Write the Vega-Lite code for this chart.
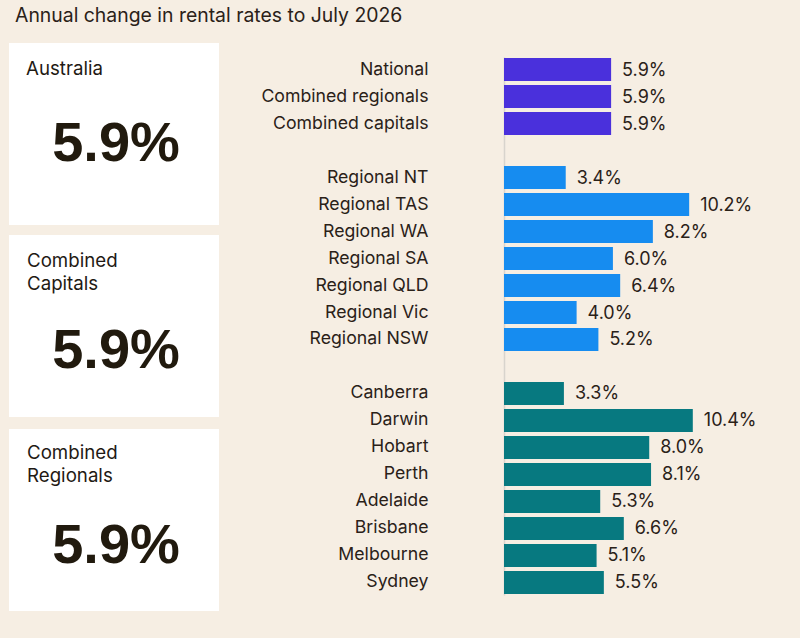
{
"$schema":"https://vega.github.io/schema/vega-lite/v6.json",
"background":"#f6eee3",
"padding":{"left":9,"top":5,"right":0,"bottom":28},
"config":{"view":{"stroke":null},"font":"Inter","concat":{"spacing":0}},
"datasets":{
"panels":[{"panel":"Australia","label":"Australia","value":"5.9%"},{"panel":"Capitals","label":"Combined\nCapitals","value":"5.9%"},{"panel":"Regionals","label":"Combined\nRegionals","value":"5.9%"}],
"bars":[
{"name":"National","group":"National","change":5.9,"label":"5.9%"},
{"name":"Combined regionals","group":"National","change":5.9,"label":"5.9%"},
{"name":"Combined capitals","group":"National","change":5.9,"label":"5.9%"},
{"name":"Regional NT","group":"Regional","change":3.4,"label":"3.4%"},
{"name":"Regional TAS","group":"Regional","change":10.2,"label":"10.2%"},
{"name":"Regional WA","group":"Regional","change":8.2,"label":"8.2%"},
{"name":"Regional SA","group":"Regional","change":6.0,"label":"6.0%"},
{"name":"Regional QLD","group":"Regional","change":6.4,"label":"6.4%"},
{"name":"Regional Vic","group":"Regional","change":4.0,"label":"4.0%"},
{"name":"Regional NSW","group":"Regional","change":5.2,"label":"5.2%"},
{"name":"Canberra","group":"Capital","change":3.3,"label":"3.3%"},
{"name":"Darwin","group":"Capital","change":10.4,"label":"10.4%"},
{"name":"Hobart","group":"Capital","change":8.0,"label":"8.0%"},
{"name":"Perth","group":"Capital","change":8.1,"label":"8.1%"},
{"name":"Adelaide","group":"Capital","change":5.3,"label":"5.3%"},
{"name":"Brisbane","group":"Capital","change":6.6,"label":"6.6%"},
{"name":"Melbourne","group":"Capital","change":5.1,"label":"5.1%"},
{"name":"Sydney","group":"Capital","change":5.5,"label":"5.5%"}
]},
"title":{"text":"Annual change in rental rates to July 2026","anchor":"start","font":"Inter","fontSize":19.4,"fontWeight":400,"color":"#2a2118","offset":17,"dx":6},
"spacing":41,
"hconcat":[
{"spacing":12,"vconcat":[
{"spacing":10,"vconcat":[
{"width":210,"height":182,"view":{"fill":"#ffffff"},"data":{"name":"panels"},"transform":[{"filter":"datum.panel==='Australia'"}],
"layer":[
{"mark":{"type":"text","align":"left","baseline":"top","lineBreak":"\n","fontSize":18.7,"lineHeight":23,"dx":-88,"dy":-74,"color":"#1f1a14"},"encoding":{"text":{"field":"label"}}},
{"mark":{"type":"text","font":"Liberation Sans","fontSize":56,"fontWeight":"bold","dx":2,"dy":10,"color":"#211a0e"},"encoding":{"text":{"field":"value"}}}]},
{"width":210,"height":182,"view":{"fill":"#ffffff"},"data":{"name":"panels"},"transform":[{"filter":"datum.panel==='Capitals'"}],
"layer":[
{"mark":{"type":"text","align":"left","baseline":"top","lineBreak":"\n","fontSize":18.7,"lineHeight":23,"dx":-87,"dy":-74,"color":"#1f1a14"},"encoding":{"text":{"field":"label"}}},
{"mark":{"type":"text","font":"Liberation Sans","fontSize":56,"fontWeight":"bold","dx":2,"dy":25,"color":"#211a0e"},"encoding":{"text":{"field":"value"}}}]}
]},
{"width":210,"height":182,"view":{"fill":"#ffffff"},"data":{"name":"panels"},"transform":[{"filter":"datum.panel==='Regionals'"}],
"layer":[
{"mark":{"type":"text","align":"left","baseline":"top","lineBreak":"\n","fontSize":18.7,"lineHeight":23,"dx":-87,"dy":-76,"color":"#1f1a14"},"encoding":{"text":{"field":"label"}}},
{"mark":{"type":"text","font":"Liberation Sans","fontSize":56,"fontWeight":"bold","dx":2,"dy":26,"color":"#211a0e"},"encoding":{"text":{"field":"value"}}}]}
]},
{"spacing":13,"vconcat":[
{"width":299,"height":1,"data":{"values":[]},"mark":{"type":"text"}},
{"width":299,"height":538,"data":{"name":"bars"},
"encoding":{
"y":{"field":"name","type":"nominal","title":null,
"scale":{"domain":["National","Combined regionals","Combined capitals"," ","Regional NT","Regional TAS","Regional WA","Regional SA","Regional QLD","Regional Vic","Regional NSW","  ","Canberra","Darwin","Hobart","Perth","Adelaide","Brisbane","Melbourne","Sydney"],"paddingInner":0.148,"paddingOuter":0.037},
"axis":{"ticks":false,"domain":true,"domainColor":"#d8d4cd","domainWidth":1.5,"labelPadding":76,"labelFontSize":17.7,"labelColor":"#2a2118","labelFont":"Inter","labelLimit":300}},
"x":{"field":"change","type":"quantitative","title":null,"scale":{"domain":[0,16.47],"nice":false},"axis":null}},
"layer":[
{"mark":{"type":"bar"},"encoding":{"color":{"field":"group","type":"nominal","legend":null,"scale":{"domain":["National","Regional","Capital"],"range":["#4a30dc","#168cf0","#077980"]}}}},
{"mark":{"type":"text","align":"left","dx":11,"dy":1,"fontSize":18,"color":"#2a2118"},"encoding":{"text":{"field":"label"}}}
]}
]}
]}
